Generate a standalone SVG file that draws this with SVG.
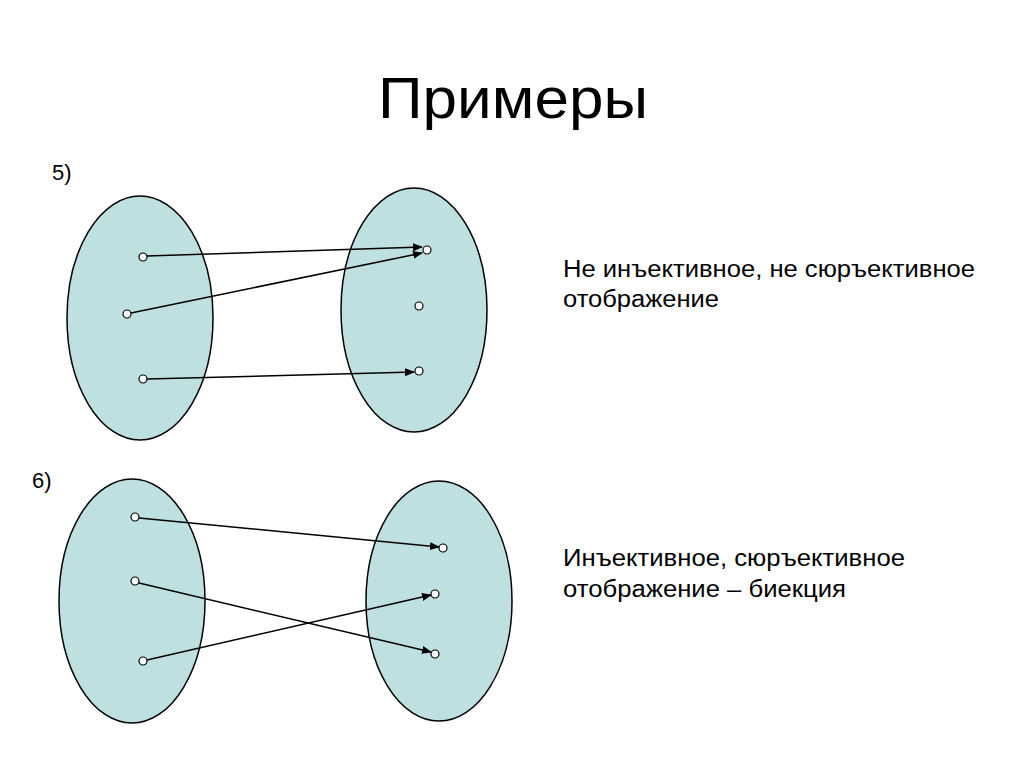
<svg xmlns="http://www.w3.org/2000/svg" width="1024" height="767" viewBox="0 0 1024 767">
<style>
.e{fill:#bfe0e0;stroke:#000;stroke-width:1.5}
.p{fill:#fff;stroke:#000;stroke-width:1.2}
.c line{stroke:#000;stroke-width:1.5;marker-end:url(#a)}
text{font-family:"Liberation Sans",Arial,sans-serif;fill:#000}
.t{font-size:23px}
</style>
<defs><marker id="a" markerWidth="10" markerHeight="8" refX="9" refY="4" orient="auto" markerUnits="userSpaceOnUse"><path d="M0,0 L10,4 L0,8 Z" fill="#000"/></marker></defs>
<rect width="1024" height="767" fill="#fff"/>
<text x="378" y="118" font-size="58" textLength="270" lengthAdjust="spacingAndGlyphs">Примеры</text>
<text x="52" y="180" font-size="22">5)</text>
<text x="32" y="488" font-size="22">6)</text>
<g id="A5"><ellipse class="e" cx="140" cy="318" rx="73" ry="122"/></g>
<g id="B5"><ellipse class="e" cx="414" cy="310" rx="73" ry="122"/></g>
<g id="A6"><ellipse class="e" cx="132" cy="601" rx="73" ry="122"/></g>
<g id="B6"><ellipse class="e" cx="439" cy="601" rx="73" ry="120"/></g>
<g class="c" id="connectors">
<line x1="147" y1="256" x2="422" y2="247"/>
<line x1="131" y1="313" x2="422" y2="253"/>
<line x1="147" y1="379" x2="414" y2="372"/>
<line x1="139" y1="518" x2="439" y2="547"/>
<line x1="139" y1="583" x2="431" y2="652"/>
<line x1="147" y1="660" x2="431" y2="595"/>
</g>
<g id="points">
<circle class="p" cx="143" cy="257" r="4"/><circle class="p" cx="127" cy="314" r="4"/><circle class="p" cx="143" cy="379" r="4"/>
<circle class="p" cx="427" cy="250" r="4"/><circle class="p" cx="419" cy="306" r="4"/><circle class="p" cx="419" cy="371" r="4"/>
<circle class="p" cx="135" cy="517" r="4"/><circle class="p" cx="135" cy="581" r="4"/><circle class="p" cx="143" cy="661" r="4"/>
<circle class="p" cx="443" cy="548" r="4"/><circle class="p" cx="435" cy="594" r="4"/><circle class="p" cx="435" cy="654" r="4"/>
</g>
<text class="t" x="563" y="277" textLength="412" lengthAdjust="spacingAndGlyphs">Не инъективное, не сюръективное</text>
<text class="t" x="563" y="307" textLength="156" lengthAdjust="spacingAndGlyphs">отображение</text>
<text class="t" x="563" y="566" textLength="342" lengthAdjust="spacingAndGlyphs">Инъективное, сюръективное</text>
<text class="t" x="563" y="597" textLength="283" lengthAdjust="spacingAndGlyphs">отображение – биекция</text>
</svg>
